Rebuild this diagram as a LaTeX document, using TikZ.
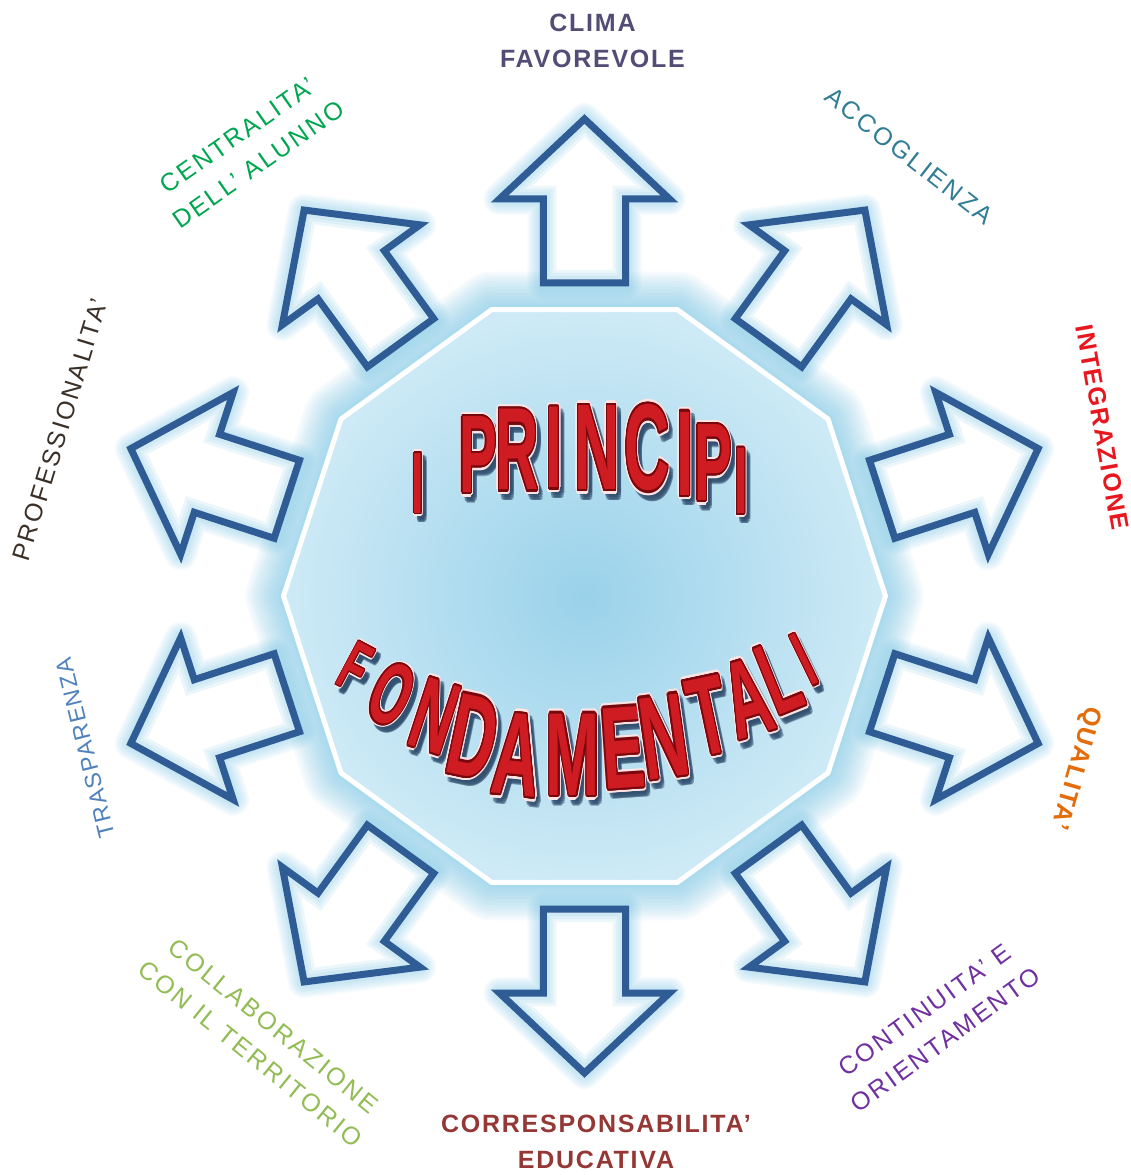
\documentclass[tikz,border=0pt]{standalone}
\usepackage{fontspec}
\setmainfont{Liberation Sans}
\usepackage{contour}
\usepackage{xcolor}

\definecolor{bordofreccia}{RGB}{48,92,150}
\definecolor{alone}{RGB}{118,198,230}
\definecolor{centrochiaro}{RGB}{154,210,234}
\definecolor{bordochiaro}{RGB}{206,234,246}
\definecolor{rossoscritta}{RGB}{206,28,34}
\definecolor{rossoscuro}{RGB}{120,8,14}
\definecolor{bordoscritta}{RGB}{255,228,228}
\definecolor{ombrascritta}{RGB}{50,80,112}

\definecolor{colclima}{RGB}{84,76,118}
\definecolor{colaccoglienza}{RGB}{49,125,150}
\definecolor{colintegrazione}{RGB}{232,22,30}
\definecolor{colqualita}{RGB}{228,108,10}
\definecolor{colcontinuita}{RGB}{112,48,160}
\definecolor{colcorresp}{RGB}{149,55,53}
\definecolor{colcollab}{RGB}{146,188,84}
\definecolor{coltrasp}{RGB}{79,129,189}
\definecolor{colprof}{RGB}{58,48,40}
\definecolor{colcentral}{RGB}{0,166,80}

\newcommand{\scrittarossa}[1]{\rlap{\contourlength{4pt}\contour{bordoscritta}{\textcolor{rossoscuro}{#1}}}\contourlength{2pt}\contour{rossoscuro}{\textcolor{rossoscritta}{#1}}}

\begin{document}
\begin{tikzpicture}[x=1pt, y=1pt]
    \tikzstyle{etichetta} = [inner sep=0pt, align=center, font=\fontsize{25}{36}\selectfont\addfontfeature{LetterSpace=10}]
    \tikzstyle{etichettaforte} = [etichetta, font=\fontsize{25}{36}\selectfont\bfseries\addfontfeature{LetterSpace=7}]
    \tikzstyle{lettera} = [inner sep=0pt, font=\fontsize{100}{100}\selectfont\bfseries]
    \tikzstyle{freccia} = [insert path={(313,-41) -- (397,-41) -- (397,-85) -- (477,0) -- (397,85) -- (397,41) -- (313,41) -- cycle}]
    \tikzstyle{decagono} = [insert path={(108:301) -- (144:301) -- (180:301) -- (216:301) -- (252:301) -- (288:301) -- (324:301) -- (0:301) -- (36:301) -- (72:301) -- cycle}]

    \useasboundingbox (-584.5,-579) rectangle (546.5,596);
    \fill[white] (-584.5,-579) rectangle (546.5,596);
    \coordinate (centro) at (0,0);

    % Alone del decagono
    \foreach \w in {76,70,...,4}
        \draw[decagono, alone, line width=\w, opacity=0.07, line join=round];

    % Frecce
    \foreach \a in {90,54,...,-234} {
        \begin{scope}[rotate=\a]
            \foreach \w in {32,28,...,8}
                \draw[freccia, alone, line width=\w, opacity=0.08, line join=round];
            \fill[freccia, white];
            \begin{scope}
                \clip[freccia];
                \foreach \w in {26,20,14}
                    \draw[freccia, alone, line width=\w, opacity=0.13];
            \end{scope}
            \draw[freccia, bordofreccia, line width=7, line join=miter];
        \end{scope}
    }

    % Decagono
    \shade[decagono, inner color=centrochiaro, outer color=bordochiaro];
    \draw[decagono, white, line width=5];

    % Scritta centrale
    \foreach \ch/\x/\y/\h [count=\i] in {I/-166.5/111/67, P/-106.5/139/85, R/-67.5/144/90, I/-30.5/146/90, N/12.5/146/94, C/62.5/146/94, I/100.5/140/93, P/128.5/131/85, I/156.5/113/73} {
        \node[lettera, text=ombrascritta, opacity=0.35, xscale=\h/150, yscale=\h/77] (op\i) at (\x+4,\y-6) {\contourlength{4pt}\contour{ombrascritta}{\ch}};
        \node[lettera, xscale=\h/150, yscale=\h/77] (p\i) at (\x,\y) {\scrittarossa{\ch}};
    }
    \foreach \ch/\x/\y/\h/\r [count=\i] in {F/-229.5/-72/54/-28, O/-193.5/-100/68/-24, N/-150.5/-122/79/-18, D/-111.5/-143/90/-12, A/-67.5/-161/91/-6, M/-11.5/-161/91/0, E/38.5/-154/90/4, N/79.5/-143/91/8, T/124.5/-122/86/12, A/163.5/-104/84/17, L/195.5/-83/79/22, I/220.5/-65/61/26} {
        \node[lettera, text=ombrascritta, opacity=0.35, rotate=\r, xscale=\h/140, yscale=\h/77] (of\i) at (\x+4,\y-6) {\contourlength{4pt}\contour{ombrascritta}{\ch}};
        \node[lettera, rotate=\r, xscale=\h/140, yscale=\h/77] (f\i) at (\x,\y) {\scrittarossa{\ch}};
    }

    % Etichette
    \node[etichettaforte, text=colclima] (clima) at (8,555.5) {CLIMA\\FAVOREVOLE};
    \node[etichetta, text=colaccoglienza, rotate=-38] (accoglienza) at (324.5,440) {ACCOGLIENZA};
    \node[etichettaforte, text=colintegrazione, rotate=-80] (integrazione) at (518,169) {INTEGRAZIONE};
    \node[etichettaforte, text=colqualita, rotate=-106] (qualita) at (490.5,-172) {QUALITA’};
    \node[etichetta, text=colcontinuita, rotate=36] (continuita) at (350.5,-429) {CONTINUITA’ E\\ORIENTAMENTO};
    \node[etichettaforte, text=colcorresp] (corresponsabilita) at (11.5,-545.5) {CORRESPONSABILITA’\\EDUCATIVA};
    \node[etichetta, text=colcollab, rotate=-39] (collaborazione) at (-322.5,-444) {COLLABORAZIONE\\CON IL TERRITORIO};
    \node[etichetta, text=coltrasp, rotate=104, font=\fontsize{23}{30}\selectfont\addfontfeature{LetterSpace=7}] (trasparenza) at (-499.5,-152) {TRASPARENZA};
    \node[etichetta, text=colprof, rotate=73] (professionalita) at (-524.5,166) {PROFESSIONALITA’};
    \node[etichetta, text=colcentral, rotate=35] (centralita) at (-336.5,446) {CENTRALITA’\\DELL’ ALUNNO};
\end{tikzpicture}
\end{document}
